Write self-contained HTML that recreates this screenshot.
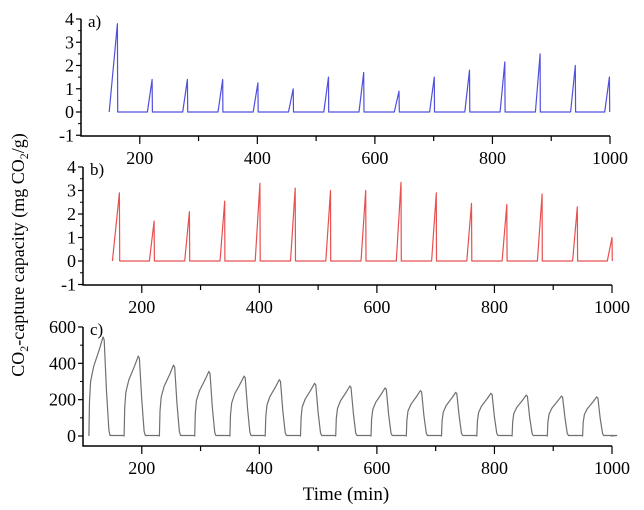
<!DOCTYPE html>
<html><head><meta charset="utf-8"><style>
html,body{margin:0;padding:0;background:#fff;}
svg{display:block;font-family:"Liberation Serif",serif;}
</style></head><body>
<svg id="chart" width="644" height="510" viewBox="0 0 644 510"></svg>
<script>
// Panel a data (blue)
const aPeakTimes=[162,221,281,341,401,461,521,581,641,701,761,821,881,941,999];
const aPeakValues=[3.8,1.4,1.4,1.4,1.25,1.0,1.5,1.7,0.9,1.5,1.8,2.15,2.5,2.0,1.5];
// Panel b data (red)
const bPeakTimes=[162,221,281,341,401,461,521,581,641,701,761,821,881,941,1000];
const bPeakValues=[2.9,1.7,2.1,2.55,3.3,3.1,3.0,3.0,3.35,2.9,2.45,2.4,2.85,2.3,1.0];
// Panel c data (gray)
const cPeakTimes=[135,195,255,315,375,435,495,555,615,675,735,795,855,915,975];
const cPeakValues=[545,440,390,355,330,310,290,275,265,250,240,235,225,220,215];
const xTicks=[200,400,600,800,1000];
const abYTicks=[-1,0,1,2,3,4];
const cYTicks=[0,200,400,600];

const NS="http://www.w3.org/2000/svg";
const svg=document.getElementById('chart');
function mk(tag,attrs,parent){const e=document.createElementNS(NS,tag);for(const k in attrs)e.setAttribute(k,attrs[k]);(parent||svg).appendChild(e);return e;}

function panel(cfg){
  const g=mk('g',{});
  
  
  const sx=t=>cfg.x0+(t-cfg.xmin)*(cfg.x1-cfg.x0)/(cfg.xmax-cfg.xmin);
  const sy=v=>cfg.y0-(v-cfg.v0)*(cfg.y0-cfg.yt)/(cfg.ytop-cfg.v0);
  const topY=sy(cfg.yTicks[cfg.yTicks.length-1]);
  const ax=mk('path',{d:`M${cfg.x0},${topY}V${cfg.yb}H${cfg.x1}`,fill:'none',stroke:'#000','stroke-width':1.5},g);
  
  
  for(let t=cfg.xmin+100;t<=cfg.xmax;t+=100){
    const major=t%200===0;
    mk('line',{x1:sx(t),x2:sx(t),y1:cfg.yb,y2:cfg.yb+(major?8:5),stroke:'#000','stroke-width':1.2},g);
  }
  xTicks.forEach(t=>{const tx=mk('text',{x:sx(t),y:cfg.yb+28,'text-anchor':'middle','font-size':18},g);tx.textContent=t;
    
    });
  cfg.yTicks.forEach((v,i)=>{
    mk('line',{x1:cfg.x0-5,x2:cfg.x0,y1:sy(v),y2:sy(v),stroke:'#000','stroke-width':1.2},g);
    if(i<cfg.yTicks.length-1){const m=(v+cfg.yTicks[i+1])/2;mk('line',{x1:cfg.x0-3,x2:cfg.x0,y1:sy(m),y2:sy(m),stroke:'#000'},g);}
    const tx=mk('text',{x:cfg.x0-7,y:sy(v)+6,'text-anchor':'end','font-size':18},g);tx.textContent=v;
    
    
  });
  const lb=mk('text',{x:cfg.x0+7,y:topY+8,'font-size':17},g);lb.textContent=cfg.label;
  
  
  const pts=cfg.points();
  const d=pts.map((p,i)=>(i?'L':'M')+sx(p[0]).toFixed(1)+','+sy(p[1]).toFixed(1)).join('');
  const ln=mk('path',{d:d,fill:'none',stroke:cfg.color,'stroke-width':1.2,'stroke-linejoin':'round'},g);
  
  
}

function spikes(times,vals,firstRise,rise){
  const pts=[];
  times.forEach((t,i)=>{
    const r=i===0?firstRise:rise;
    pts.push([t-r,0]);pts.push([t,vals[i]]);pts.push([t+0.5,0]);
  });
  return pts;
}

panel({name:'panel-a',label:'a)',color:'#5050dd',x0:81,x1:610,xmin:100,xmax:1000,yb:136,y0:112,v0:0,yt:19,ytop:4,yTicks:abYTicks,
  points:()=>spikes(aPeakTimes,aPeakValues,14,8)});
panel({name:'panel-b',label:'b)',color:'#e85050',x0:83,x1:612,xmin:100,xmax:1000,yb:285,y0:261,v0:0,yt:167,ytop:4,yTicks:abYTicks,
  points:()=>spikes(bPeakTimes,bPeakValues,12,8)});
panel({name:'panel-c',label:'c)',color:'#707070',x0:83,x1:612,xmin:100,xmax:1000,yb:446,y0:436,v0:0,yt:327,ytop:600,yTicks:cYTicks,
  points:()=>{const p=[];cPeakTimes.forEach((t,i)=>{const v=cPeakValues[i];const s=t-25;
    p.push([s,0]);p.push([s+1,v*0.35]);p.push([s+3,v*0.55]);p.push([s+8,v*0.7]);p.push([s+18,v*0.88]);p.push([t-1,v]);p.push([t+1,v*0.97]);p.push([t+5,v*0.45]);p.push([t+9,v*0.06]);p.push([t+11,3]);p.push([t+33,3]);});
    p.push([998,0]);return p;}});

const yt=mk('text',{x:0,y:0,'text-anchor':'middle','font-size':18,transform:'translate(24,255) rotate(-90)'});
yt.innerHTML='CO<tspan font-size="12" dy="4">2</tspan><tspan dy="-4">-capture capacity (mg CO</tspan><tspan font-size="12" dy="4">2</tspan><tspan dy="-4">/g)</tspan>';


const xt=mk('text',{x:346,y:500,'text-anchor':'middle','font-size':19});
xt.textContent='Time (min)';


</script>
</body></html>
